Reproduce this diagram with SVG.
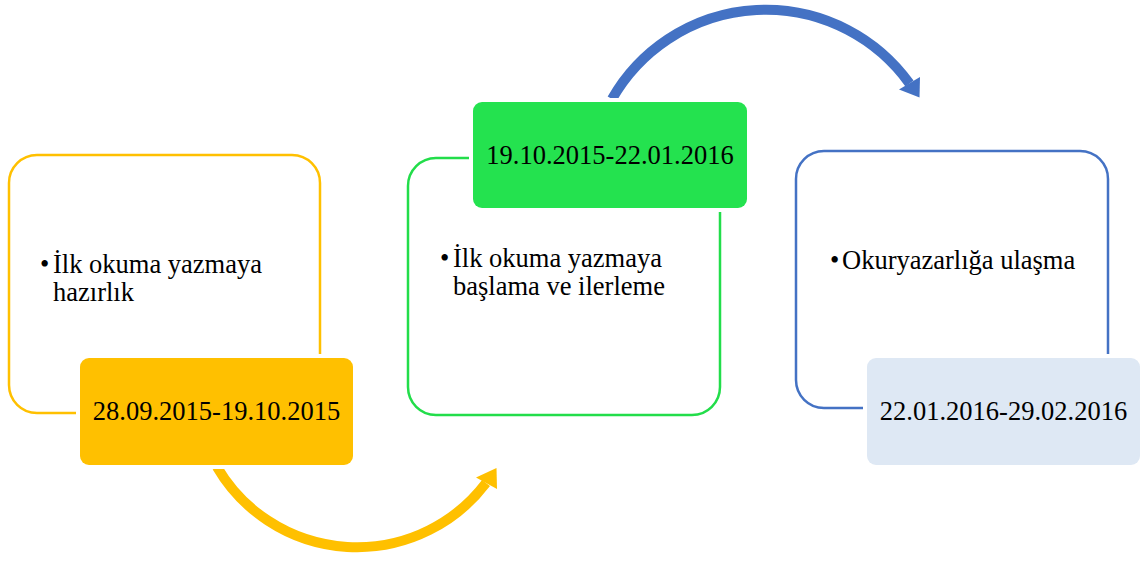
<svg xmlns="http://www.w3.org/2000/svg" width="1143" height="561" viewBox="0 0 1143 561">
<style>
text{font-family:'Liberation Serif','DejaVu Serif',serif;font-size:26.5px;fill:#000}
.d{text-anchor:middle}
.ol{fill:none;stroke-width:2.5}
.gap{fill:#fff}
</style>
<rect width="1143" height="561" fill="#fff"/>
<g id="connectors">
<path d="M 217 467 A 162 162 0 0 0 486 483" fill="none" stroke="#FFC000" stroke-width="10"/>
<polygon points="476,477.5 497,489 496.5,468" fill="#FFC000"/>
<path d="M 612 99 A 177 177 0 0 1 909.5 83.5" fill="none" stroke="#4472C4" stroke-width="10"/>
<polygon points="899,89.5 920,77 919.5,97.5" fill="#4472C4"/>
</g>
<g id="node1">
<rect class="ol" x="9" y="155" width="311" height="258" rx="28" stroke="#FFC000"/>
<text x="40" y="273" font-family="Liberation Serif">•</text>
<text x="53" y="273" font-family="Liberation Serif">İlk okuma yazmaya<tspan x="53" y="301">hazırlık</tspan></text>
<rect class="gap" x="76" y="354" width="281" height="115" rx="12"/>
<rect x="80" y="358" width="273" height="107" rx="9" fill="#FFC000"/>
<text class="d" x="216.5" y="420" font-family="Liberation Serif">28.09.2015-19.10.2015</text>
</g>
<g id="node2">
<rect class="ol" x="408" y="158" width="312" height="257" rx="28" stroke="#22DD4A"/>
<text x="440" y="267" font-family="Liberation Serif">•</text>
<text x="453" y="267" font-family="Liberation Serif">İlk okuma yazmaya<tspan x="453" y="295">başlama ve ilerleme</tspan></text>
<rect class="gap" x="469" y="98" width="282" height="114" rx="12"/>
<rect x="473" y="102" width="274" height="106" rx="9" fill="#24E24F"/>
<text class="d" x="610" y="164" font-family="Liberation Serif">19.10.2015-22.01.2016</text>
</g>
<g id="node3">
<rect class="ol" x="796" y="151" width="312" height="257" rx="28" stroke="#4472C4"/>
<text x="830" y="269" font-family="Liberation Serif">•</text>
<text x="842" y="269" font-family="Liberation Serif">Okuryazarlığa ulaşma</text>
<rect class="gap" x="863" y="354" width="281" height="115" rx="12"/>
<rect x="867" y="358" width="273" height="107" rx="9" fill="#DEE8F4"/>
<text class="d" x="1003.5" y="420" font-family="Liberation Serif">22.01.2016-29.02.2016</text>
</g>
</svg>
